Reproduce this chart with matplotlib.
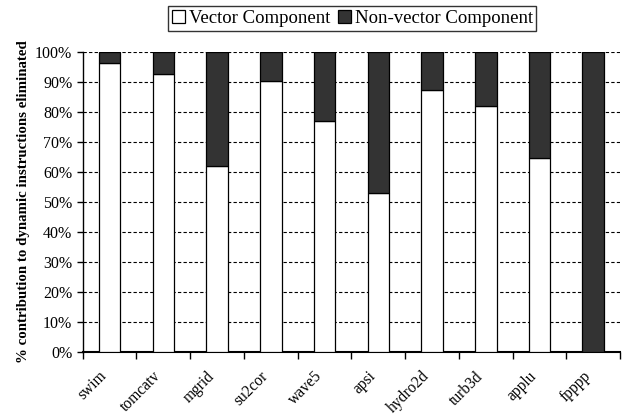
import matplotlib
matplotlib.use("Agg")
import matplotlib.pyplot as plt
import matplotlib.transforms as mtransforms
import numpy as np
from matplotlib.ticker import FixedLocator, PercentFormatter, NullFormatter

benchmarks = ["swim", "tomcatv", "mgrid", "su2cor", "wave5", "apsi",
              "hydro2d", "turb3d", "applu", "fpppp"]
vector = [96.3, 92.6, 61.9, 90.4, 76.8, 52.8, 87.2, 81.9, 64.7, 0.0]
nonvector = [100 - v for v in vector]

plt.rcParams['font.family'] = ['Liberation Serif', 'DejaVu Serif']

fig = plt.figure(figsize=(6.27, 4.18), dpi=100)
ax = fig.add_axes([0.132, 0.158, 0.857, 0.718])

x = np.arange(len(benchmarks))
w = 0.4
ax.bar(x, vector, w, color="white", edgecolor="black", linewidth=0.9,
       label="Vector Component", zorder=3)
ax.bar(x, nonvector, w, bottom=vector, color="#333333", edgecolor="black",
       linewidth=0.9, label="Non-vector Component", zorder=3)

ax.set_xlim(-0.5, len(benchmarks) - 0.5)
ax.set_ylim(0, 100)
ax.set_yticks(np.arange(0, 101, 10))
ax.yaxis.set_major_formatter(PercentFormatter(decimals=0))
ax.yaxis.grid(True, linestyle=(0, (3, 2)), color="black", linewidth=0.8, zorder=0)
ax.set_axisbelow(True)

ax.set_xticks(x)
ax.xaxis.set_major_formatter(NullFormatter())
trans = ax.get_xaxis_transform() + mtransforms.ScaledTranslation(
    -5 / 100, -22 / 100, fig.dpi_scale_trans)
for xi, name in zip(x, benchmarks):
    ax.text(xi, 0, name, transform=trans, rotation=45, ha="right", va="center",
            rotation_mode="anchor", fontsize=11.2)
ax.xaxis.set_minor_locator(FixedLocator(np.arange(-0.5, len(benchmarks), 1.0)))
ax.tick_params(axis="x", which="major", length=0)
ax.tick_params(axis="x", which="minor", length=5, direction="out", width=1)
ax.tick_params(axis="y", labelsize=11.5, length=4, direction="out", width=1)

for s in ["top", "right"]:
    ax.spines[s].set_visible(False)
ax.spines["left"].set_linewidth(1)
ax.spines["bottom"].set_linewidth(1.5)

ax.set_ylabel("% contribution to dynamic instructions eliminated",
              fontsize=10.7, fontweight="bold")

fig.legend(loc="center", bbox_to_anchor=(0.562, 0.955), ncol=2, fontsize=13.5,
           frameon=True, fancybox=False, edgecolor="black", handlelength=0.7,
           handleheight=0.7, handletextpad=0.2, columnspacing=0.4,
           borderpad=0.2, borderaxespad=0)
leg = fig.legends[0]
leg.get_frame().set_linewidth(1)

fig.savefig("out.png", dpi=100)
